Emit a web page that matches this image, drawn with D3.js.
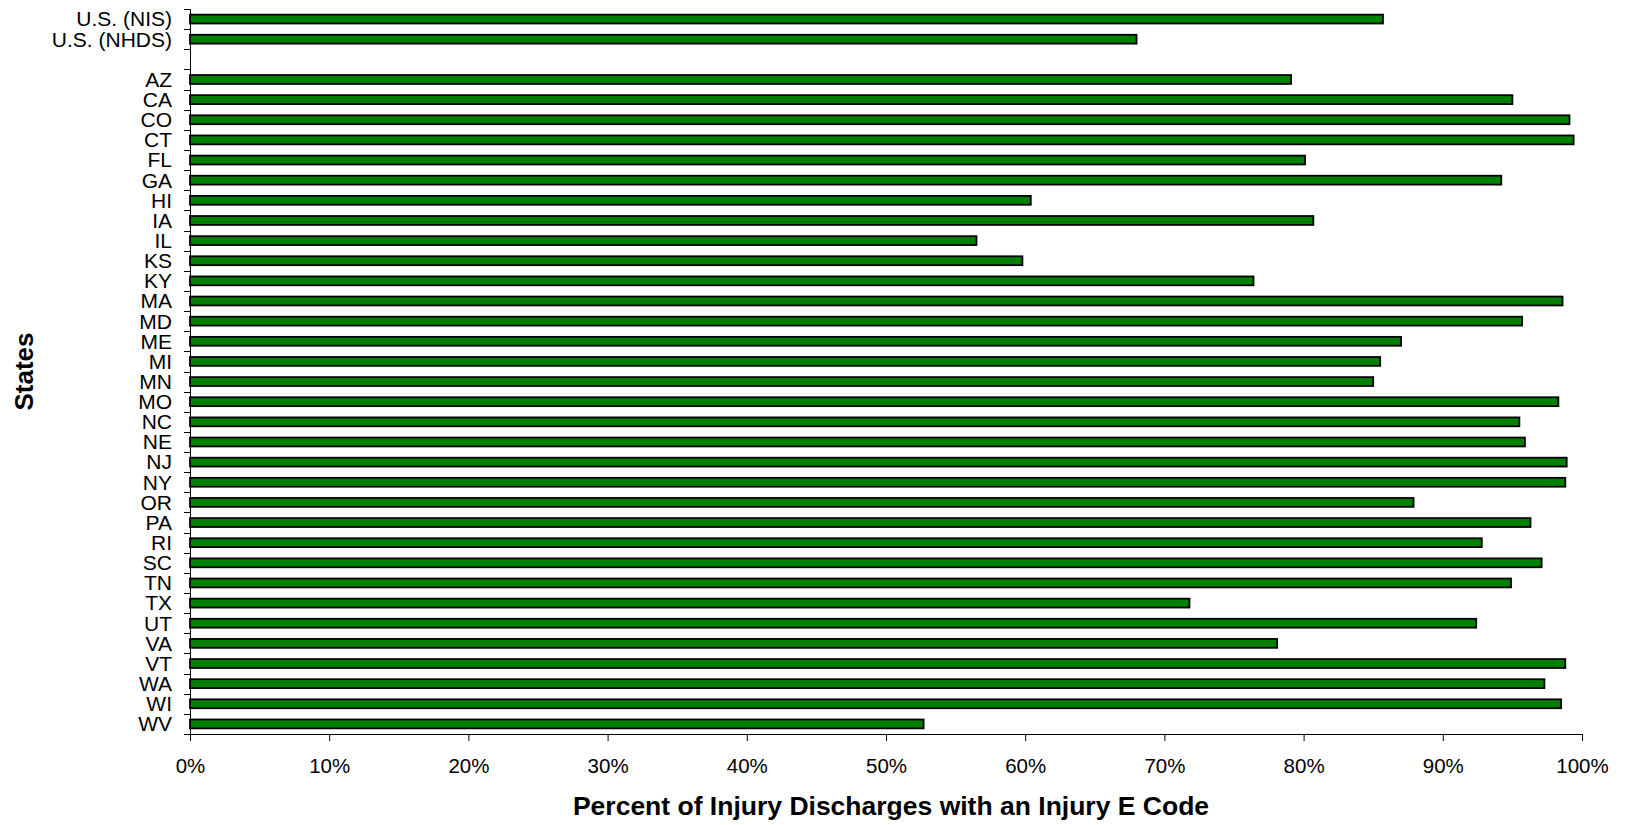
<!DOCTYPE html>
<html>
<head>
<meta charset="utf-8">
<script src="https://cdn.jsdelivr.net/npm/d3@7"></script>
<style>
  body { margin: 0; background: #fff; }
  svg text { font-family: "Liberation Sans", Arial, sans-serif; fill: #000; }
</style>
</head>
<body>
<script>
'use strict';
// chart values
const categories = ['U.S. (NIS)', 'U.S. (NHDS)', ' ',
  'AZ', 'CA', 'CO', 'CT', 'FL', 'GA', 'HI', 'IA', 'IL', 'KS', 'KY', 'MA', 'MD', 'ME',
  'MI', 'MN', 'MO', 'NC', 'NE', 'NJ', 'NY', 'OR', 'PA', 'RI', 'SC', 'TN', 'TX', 'UT',
  'VA', 'VT', 'WA', 'WI', 'WV'];
const percentValues = [85.7, 68.0, null,
  79.1, 95.0, 99.1, 99.4, 80.1, 94.2, 60.4, 80.7, 56.5, 59.8, 76.4, 98.6, 95.7, 87.0,
  85.5, 85.0, 98.3, 95.5, 95.9, 98.9, 98.8, 87.9, 96.3, 92.8, 97.1, 94.9, 71.8, 92.4,
  78.1, 98.8, 97.3, 98.5, 52.7];
const xTicks = [0, 10, 20, 30, 40, 50, 60, 70, 80, 90, 100];
const xTitle = 'Percent of Injury Discharges with an Injury E Code';
const yTitle = 'States';

(function () {
  const width = 1631, height = 825;
  const left = 190, right = 1582, top = 9, bottom = 734;

  const data = categories.map((c, i) => ({ name: c, value: percentValues[i] }));

  const svg = d3.select('body').append('svg')
    .attr('width', width)
    .attr('height', height);

  const x = d3.scaleLinear().domain([0, 100]).range([left, right]);
  const y = d3.scaleBand().domain(categories).range([top, bottom]).padding(0);

  const barH = y.bandwidth() * 0.44;

  // bars
  svg.selectAll('.bar')
    .data(data.filter(d => d.value != null))
    .enter()
    .append('rect')
    .attr('class', 'bar')
    .attr('x', x(0))
    .attr('y', d => y(d.name) + (y.bandwidth() - barH) / 2)
    .attr('width', d => x(d.value) - x(0))
    .attr('height', barH)
    .attr('fill', '#008000')
    .attr('stroke', '#000')
    .attr('stroke-width', 1.8);

  // y axis: labels + ticks between categories
  const yAxis = d3.axisLeft(y).tickSize(0).tickPadding(18);
  const gy = svg.append('g')
    .attr('transform', `translate(${left},0)`)
    .call(yAxis);
  gy.select('.domain').remove();
  gy.selectAll('text')
    .style('font-size', '21px')
    .attr('dy', '0.35em');

  const bounds = categories.map(c => y(c)).concat([bottom]);
  svg.append('g')
    .selectAll('line')
    .data(bounds)
    .enter()
    .append('line')
    .attr('x1', left - 6)
    .attr('x2', left)
    .attr('y1', d => Math.round(d) + 0.5)
    .attr('y2', d => Math.round(d) + 0.5)
    .attr('stroke', '#000');

  svg.append('line')
    .attr('x1', left + 0.5).attr('x2', left + 0.5)
    .attr('y1', top).attr('y2', bottom)
    .attr('stroke', '#000');

  // x axis
  const xAxis = d3.axisBottom(x)
    .tickValues(xTicks)
    .tickFormat(d => d + '%')
    .tickSize(7)
    .tickPadding(17)
    .tickSizeOuter(0);
  const gx = svg.append('g')
    .attr('transform', `translate(0,${bottom})`)
    .call(xAxis);
  gx.selectAll('text').style('font-size', '20.5px');
  gx.select('.domain').attr('d', `M${left - 6},0.5H${right}`);

  // titles
  svg.append('text')
    .attr('x', 891)
    .attr('y', 815)
    .attr('text-anchor', 'middle')
    .style('font-size', '26.5px')
    .style('font-weight', 'bold')
    .text(xTitle);

  svg.append('text')
    .attr('transform', `translate(33,${(top + bottom) / 2}) rotate(-90)`)
    .attr('text-anchor', 'middle')
    .style('font-size', '26px')
    .style('font-weight', 'bold')
    .text(yTitle);
})();
</script>
</body>
</html>
